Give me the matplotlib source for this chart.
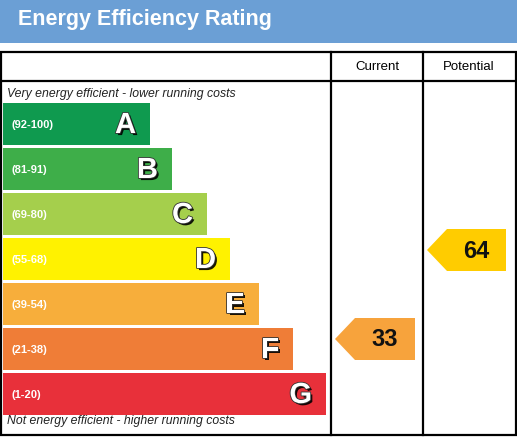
import matplotlib
matplotlib.use("Agg")
import matplotlib.pyplot as plt
import matplotlib.patheffects as pe
from matplotlib.patches import Rectangle, Polygon

plt.rcParams['font.family'] = ['Liberation Sans', 'DejaVu Sans']

# data
letters = ['A', 'B', 'C', 'D', 'E', 'F', 'G']
ranges = ['(92-100)', '(81-91)', '(69-80)', '(55-68)', '(39-54)', '(21-38)', '(1-20)']
lows = [92, 81, 69, 55, 39, 21, 1]
bar_len = [147, 169, 204, 227, 256, 290, 323]
colors = ['#0f9a4f', '#3eae49', '#a5cf4c', '#fff200', '#f7ae3b', '#ef7d37', '#e8303a']
current = 33
potential = 64
title = 'Energy Efficiency Rating'
top_note = 'Very energy efficient - lower running costs'
bottom_note = 'Not energy efficient - higher running costs'


def band_of(v):
    for i, lo in enumerate(lows):
        if v >= lo:
            return i
    return len(lows) - 1


fig = plt.figure(figsize=(5.17, 4.37), dpi=100)
ax = fig.add_axes([0, 0, 1, 1])
ax.set_xlim(0, 517)
ax.set_ylim(437, 0)
ax.axis('off')

# header band
ax.add_patch(Rectangle((0, 0), 517, 43, color='#6b9fd5', lw=0))
ax.text(18, 20, title, color='white', fontsize=15.5, fontweight='bold', va='center')

# table frame
lw = 1.6
ax.add_patch(Rectangle((1, 52), 515, 383, fill=False, ec='black', lw=lw))
ax.plot([1, 516], [81, 81], color='black', lw=lw)
ax.plot([331, 331], [52, 435], color='black', lw=lw)
ax.plot([423, 423], [52, 435], color='black', lw=lw)
ax.text(377, 67, 'Current', fontsize=9.5, ha='center', va='center')
ax.text(469, 67, 'Potential', fontsize=9.5, ha='center', va='center')

ax.text(7, 94, top_note, fontsize=8.8, style='italic', va='center', color='#222222')
ax.text(7, 421, bottom_note, fontsize=8.8, style='italic', va='center', color='#222222')

# bands
y0 = 124
step = 45
ys = [y0 + i * step for i in range(len(letters))]
ax.barh(ys, bar_len, height=42, left=3, color=colors, lw=0)
for y, L, r, w in zip(ys, letters, ranges, bar_len):
    ax.text(11, y + 1, r, color='white', fontsize=8, fontweight='bold', va='center')
    ax.text(3 + w - 14, y + 1, L, color='white', fontsize=21, fontweight='bold',
            ha='right', va='center',
            path_effects=[pe.withSimplePatchShadow(offset=(1.5, -1.5), shadow_rgbFace='black', alpha=0.9),
                          pe.Stroke(linewidth=1.2, foreground='#333333'), pe.Normal()])


def arrow(x0, x1, y, val, col):
    h = 21
    tip = 20
    pts = [(x0, y), (x0 + tip, y - h), (x1, y - h), (x1, y + h), (x0 + tip, y + h)]
    ax.add_patch(Polygon(pts, closed=True, color=col, lw=0))
    ax.text(x1 - 30, y + 1, str(val), fontsize=17, fontweight='bold', ha='center', va='center', color='#111111')


arrow(335, 415, ys[band_of(current)] - 10, current, '#f7a33c')
arrow(427, 506, ys[band_of(potential)] - 9, potential, '#ffcc00')

fig.savefig('out.png', dpi=100)
